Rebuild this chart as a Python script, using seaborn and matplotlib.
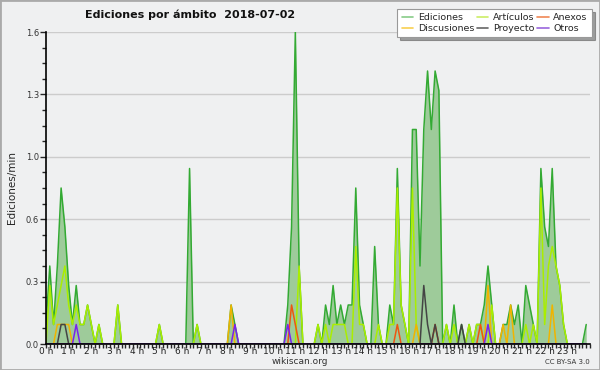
import numpy as np
import pandas as pd
import matplotlib
matplotlib.use("Agg")
import matplotlib.pyplot as plt
from matplotlib.lines import Line2D
from matplotlib.patches import Rectangle
import seaborn as sns

# edits per minute, one value every 10 minutes (6 per hour row)
ediciones = [
    0.1, 0.4, 0.1, 0.4, 0.8, 0.6,   # 0 h
    0.3, 0.1, 0.3, 0.1, 0.1, 0.2,   # 1 h
    0.1, 0.0, 0.1, 0.0, 0.0, 0.0,   # 2 h
    0.0, 0.2, 0.0, 0.0, 0.0, 0.0,   # 3 h
    0.0, 0.0, 0.0, 0.0, 0.0, 0.0,   # 4 h
    0.1, 0.0, 0.0, 0.0, 0.0, 0.0,   # 5 h
    0.0, 0.0, 0.9, 0.0, 0.1, 0.0,   # 6 h
    0.0, 0.0, 0.0, 0.0, 0.0, 0.0,   # 7 h
    0.0, 0.2, 0.1, 0.0, 0.0, 0.0,   # 8 h
    0.0, 0.0, 0.0, 0.0, 0.0, 0.0,   # 9 h
    0.0, 0.0, 0.0, 0.0, 0.2, 0.6,   # 10 h
    1.6, 0.4, 0.0, 0.0, 0.0, 0.0,   # 11 h
    0.1, 0.0, 0.2, 0.1, 0.3, 0.1,   # 12 h
    0.2, 0.1, 0.2, 0.2, 0.8, 0.2,   # 13 h
    0.1, 0.0, 0.0, 0.5, 0.1, 0.0,   # 14 h
    0.0, 0.2, 0.1, 0.9, 0.2, 0.1,   # 15 h
    0.0, 1.1, 1.1, 0.4, 1.1, 1.4,   # 16 h
    1.1, 1.4, 1.3, 0.0, 0.1, 0.0,   # 17 h
    0.2, 0.0, 0.1, 0.0, 0.1, 0.0,   # 18 h
    0.1, 0.1, 0.2, 0.4, 0.2, 0.0,   # 19 h
    0.0, 0.1, 0.1, 0.2, 0.1, 0.2,   # 20 h
    0.0, 0.3, 0.2, 0.1, 0.0, 0.9,   # 21 h
    0.6, 0.5, 0.9, 0.4, 0.3, 0.1,   # 22 h
    0.0, 0.0, 0.0, 0.0, 0.0, 0.1,   # 23 h
]

articulos = [
    0.0, 0.3, 0.1, 0.2, 0.3, 0.4,   # 0 h
    0.2, 0.1, 0.2, 0.1, 0.1, 0.2,   # 1 h
    0.1, 0.0, 0.1, 0.0, 0.0, 0.0,   # 2 h
    0.0, 0.2, 0.0, 0.0, 0.0, 0.0,   # 3 h
    0.0, 0.0, 0.0, 0.0, 0.0, 0.0,   # 4 h
    0.1, 0.0, 0.0, 0.0, 0.0, 0.0,   # 5 h
    0.0, 0.0, 0.0, 0.0, 0.1, 0.0,   # 6 h
    0.0, 0.0, 0.0, 0.0, 0.0, 0.0,   # 7 h
    0.0, 0.0, 0.0, 0.0, 0.0, 0.0,   # 8 h
    0.0, 0.0, 0.0, 0.0, 0.0, 0.0,   # 9 h
    0.0, 0.0, 0.0, 0.0, 0.0, 0.0,   # 10 h
    0.0, 0.4, 0.0, 0.0, 0.0, 0.0,   # 11 h
    0.1, 0.0, 0.1, 0.0, 0.1, 0.1,   # 12 h
    0.1, 0.1, 0.0, 0.0, 0.5, 0.1,   # 13 h
    0.1, 0.0, 0.0, 0.0, 0.1, 0.0,   # 14 h
    0.0, 0.1, 0.1, 0.8, 0.2, 0.1,   # 15 h
    0.0, 0.8, 0.1, 0.0, 0.0, 0.0,   # 16 h
    0.0, 0.0, 0.0, 0.0, 0.1, 0.0,   # 17 h
    0.1, 0.0, 0.0, 0.0, 0.1, 0.0,   # 18 h
    0.1, 0.1, 0.0, 0.0, 0.2, 0.0,   # 19 h
    0.0, 0.0, 0.0, 0.0, 0.0, 0.0,   # 20 h
    0.0, 0.1, 0.0, 0.1, 0.0, 0.8,   # 21 h
    0.1, 0.4, 0.5, 0.4, 0.3, 0.1,   # 22 h
    0.0, 0.0, 0.0, 0.0, 0.0, 0.0,   # 23 h
]

# sparse series: time of the 10-minute slot and value, zero elsewhere
discusiones_t = ["0:30", "0:40", "0:50", "1:00", "8:10", "16:20", "19:30", "20:10", "20:30", "22:20"]
discusiones_v = [0.1, 0.1, 0.1, 0.1, 0.2, 0.1, 0.3, 0.1, 0.2, 0.2]

anexos_t = ["10:50", "11:00", "15:30", "17:10", "19:10"]
anexos_v = [0.2, 0.1, 0.1, 0.1, 0.1]

proyecto_t = ["0:40", "0:50", "16:40", "16:50", "17:10", "18:20"]
proyecto_v = [0.1, 0.1, 0.3, 0.1, 0.1, 0.1]

otros_t = ["1:20", "8:20", "10:40", "19:30"]
otros_v = [0.1, 0.1, 0.1, 0.1]

hour_labels = [f"{h} h" for h in range(24)]
ytick_vals = np.linspace(0, 1.6, 6)

hours = np.arange(144) / 6


def expand(times, values):
    s = pd.Series(0.0, index=np.arange(144))
    for t, v in zip(times, values):
        h, m = t.split(":")
        s[int(h) * 6 + int(m) // 10] = v
    return s.values


df = pd.DataFrame({
    "hora": hours,
    "Ediciones": ediciones,
    "Artículos": articulos,
    "Discusiones": expand(discusiones_t, discusiones_v),
    "Anexos": expand(anexos_t, anexos_v),
    "Proyecto": expand(proyecto_t, proyecto_v),
    "Otros": expand(otros_t, otros_v),
})

sns.set_style("white")
plt.rcParams["font.family"] = ["DejaVu Sans"]

bg = "#eff0f1"
fig = plt.figure(figsize=(6, 3.7), dpi=100, facecolor=bg)
ax = fig.add_axes([46 / 600, 26 / 370, 544 / 600, 312 / 370])
ax.set_facecolor(bg)

line_colors = {
    "Artículos": "#aaee00",
    "Discusiones": "#f0b400",
    "Anexos": "#ee5511",
    "Proyecto": "#444444",
    "Otros": "#7a22ee",
}
legend_colors = {
    "Ediciones": "#88cc88",
    "Artículos": "#ccee66",
    "Anexos": "#f08855",
    "Discusiones": "#f8d050",
    "Proyecto": "#666666",
    "Otros": "#9966dd",
}

ax.fill_between(df["hora"], df["Ediciones"], color="#9ecb9a", zorder=2, lw=0)
sns.lineplot(data=df, x="hora", y="Ediciones", ax=ax, color="#33aa33", lw=1.1, zorder=3)
for name in ["Artículos", "Discusiones", "Anexos", "Proyecto", "Otros"]:
    sns.lineplot(data=df, x="hora", y=name, ax=ax, color=line_colors[name], lw=1.1, zorder=4)

ax.set_xlim(0, 24)
ax.set_ylim(0, 1.6)

ax.set_xticks(range(24))
ax.set_xticklabels(hour_labels, fontsize=6.5, color="#222222")
ax.set_xticks(np.arange(0, 24.01, 1 / 6), minor=True)
ax.set_yticks(ytick_vals)
ax.set_yticklabels([f"{v:.1f}" for v in ytick_vals], fontsize=6, color="#333333")
ax.set_yticks(np.arange(0, 1.601, 0.08), minor=True)
ax.tick_params(axis="x", which="major", length=3, width=1, pad=-0.5, direction="out", bottom=True)
ax.tick_params(axis="x", which="minor", length=3, width=1, direction="out", bottom=True)
ax.tick_params(axis="y", which="major", length=4, width=1, pad=1, direction="out", left=True)
ax.tick_params(axis="y", which="minor", length=3, width=1, direction="out", left=True)

ax.grid(axis="y", which="major", color="#cccccc", lw=1, zorder=0)
ax.set_axisbelow(True)
for side in ["top", "right"]:
    ax.spines[side].set_visible(False)
for side in ["left", "bottom"]:
    ax.spines[side].set_color("black")
    ax.spines[side].set_linewidth(1.2)
    ax.spines[side].set_zorder(6)

ax.set_xlabel("")
ax.set_ylabel("Ediciones/min", fontsize=7.5, labelpad=6)

fig.text(85 / 600, 1 - 15 / 370, "Ediciones por ámbito  2018-07-02", fontsize=8,
         fontweight="bold", ha="left", va="center", color="#111111")

order = ["Ediciones", "Discusiones", "Artículos", "Proyecto", "Anexos", "Otros"]
handles = [Line2D([0], [0], color=legend_colors[n], lw=1.2) for n in order]
leg = fig.legend(handles, order, loc="upper right", bbox_to_anchor=(592 / 600, 1 - 9 / 370),
                 ncol=3, fontsize=6.8, frameon=True, fancybox=False, shadow=True,
                 handlelength=1.2, handletextpad=0.5, columnspacing=0.3,
                 labelspacing=0.2, borderpad=0.45, borderaxespad=0)
leg.get_frame().set_edgecolor("#999999")
leg.get_frame().set_linewidth(0.8)

fig.text(300 / 600, 1 - 362 / 370, "wikiscan.org", fontsize=6.5, ha="center", va="center", color="#333333")
fig.text(590 / 600, 1 - 362 / 370, "CC BY-SA 3.0", fontsize=5, ha="right", va="center", color="#333333")

fig.patches.append(Rectangle((0, 0), 1, 1, transform=fig.transFigure, fill=False,
                             edgecolor="#aaaaaa", lw=2))

fig.savefig("out.png", dpi=100, facecolor=bg)
